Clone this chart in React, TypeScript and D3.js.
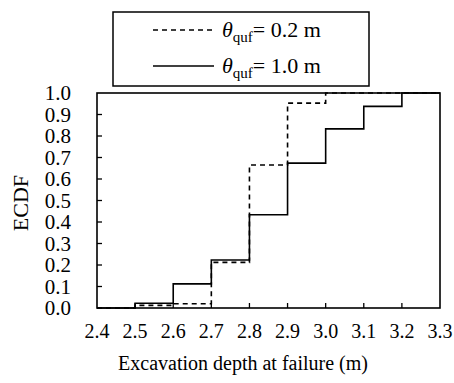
import React, { useEffect, useRef } from 'react';
import * as d3 from 'd3';

// depth values (m) where the ECDF steps
const depths = [2.4, 2.5, 2.6, 2.7, 2.8, 2.9, 3.0, 3.1, 3.2, 3.3];
// ECDF for theta_quf = 0.2 m (dashed)
const ecdf02 = [0, 0.012, 0.02, 0.212, 0.665, 0.953, 1.0, 1.0, 1.0, 1.0];
// ECDF for theta_quf = 1.0 m (solid)
const ecdf10 = [0, 0.022, 0.112, 0.223, 0.434, 0.674, 0.833, 0.938, 1.0, 1.0];
const xTicks = [2.4, 2.5, 2.6, 2.7, 2.8, 2.9, 3.0, 3.1, 3.2, 3.3];
const yTicks = [0, 0.1, 0.2, 0.3, 0.4, 0.5, 0.6, 0.7, 0.8, 0.9, 1.0];
const legendLabels = ['0.2 m', '1.0 m'];

export default function App() {
  const ref = useRef<SVGSVGElement>(null);

  useEffect(() => {
    const width = 454;
    const height = 383;
    const left = 97, right = 440, top = 93, bottom = 308;
    const font = '"Liberation Serif", "Times New Roman", serif';

    const svg = d3.select(ref.current);
    svg.selectAll('*').remove();
    svg.attr('width', width).attr('height', height);

    const x = d3.scaleLinear().domain([2.4, 3.3]).range([left, right]);
    const y = d3.scaleLinear().domain([0, 1]).range([bottom, top]);

    // step lines
    const line = d3.line<number>()
      .x((d, i) => x(depths[i]))
      .y(d => y(d))
      .curve(d3.curveStepAfter);

    svg.append('path')
      .attr('d', line(ecdf10))
      .attr('fill', 'none')
      .attr('stroke', '#000')
      .attr('stroke-width', 1.6);

    svg.append('path')
      .attr('d', line(ecdf02))
      .attr('fill', 'none')
      .attr('stroke', '#000')
      .attr('stroke-width', 1.6)
      .attr('stroke-dasharray', '5,4');

    // frame
    svg.append('rect')
      .attr('x', left).attr('y', top)
      .attr('width', right - left).attr('height', bottom - top)
      .attr('fill', 'none')
      .attr('stroke', '#000')
      .attr('stroke-width', 1.6);

    // x ticks (inward)
    svg.append('g').selectAll('line')
      .data(xTicks.slice(1, -1))
      .enter().append('line')
      .attr('x1', d => x(d)).attr('x2', d => x(d))
      .attr('y1', bottom).attr('y2', bottom - 5)
      .attr('stroke', '#000').attr('stroke-width', 1.3);

    svg.append('g').selectAll('text')
      .data(xTicks)
      .enter().append('text')
      .attr('x', d => x(d))
      .attr('y', 338)
      .attr('text-anchor', 'middle')
      .style('font-family', font)
      .style('font-size', '20px')
      .text(d => d.toFixed(1));

    // y ticks (inward)
    svg.append('g').selectAll('line')
      .data(yTicks.slice(1, -1))
      .enter().append('line')
      .attr('x1', left).attr('x2', left + 5)
      .attr('y1', d => y(d)).attr('y2', d => y(d))
      .attr('stroke', '#000').attr('stroke-width', 1.3);

    svg.append('g').selectAll('text')
      .data(yTicks)
      .enter().append('text')
      .attr('x', 71)
      .attr('y', d => y(d) + 7)
      .attr('text-anchor', 'end')
      .style('font-family', font)
      .style('font-size', '21px')
      .text(d => d.toFixed(1));

    // axis titles
    svg.append('text')
      .attr('x', 243).attr('y', 370)
      .attr('text-anchor', 'middle')
      .style('font-family', font)
      .style('font-size', '20px')
      .text('Excavation depth at failure (m)');

    svg.append('text')
      .attr('transform', 'translate(28,203) rotate(-90)')
      .attr('text-anchor', 'middle')
      .style('font-family', font)
      .style('font-size', '22px')
      .text('ECDF');

    // legend
    svg.append('rect')
      .attr('x', 113).attr('y', 12)
      .attr('width', 256).attr('height', 74)
      .attr('fill', '#fff')
      .attr('stroke', '#000')
      .attr('stroke-width', 1.5);

    const rows = [
      { y: 30, dash: '5,4', label: legendLabels[0] },
      { y: 66, dash: null, label: legendLabels[1] },
    ];
    rows.forEach(r => {
      svg.append('line')
        .attr('x1', 153).attr('x2', 214)
        .attr('y1', r.y).attr('y2', r.y)
        .attr('stroke', '#000')
        .attr('stroke-width', 1.3)
        .attr('stroke-dasharray', r.dash);
      const t = svg.append('text')
        .attr('x', 222).attr('y', r.y + 7)
        .style('font-family', font)
        .style('font-size', '22px');
      t.append('tspan').style('font-style', 'italic').text('θ');
      t.append('tspan').attr('dy', 5).style('font-size', '15px').text('quf');
      t.append('tspan').attr('dy', -5).text('= ' + r.label);
    });
  }, []);

  return (
    <svg ref={ref} style={{ position: 'absolute', left: 0, top: 0, background: '#fff' }} />
  );
}
